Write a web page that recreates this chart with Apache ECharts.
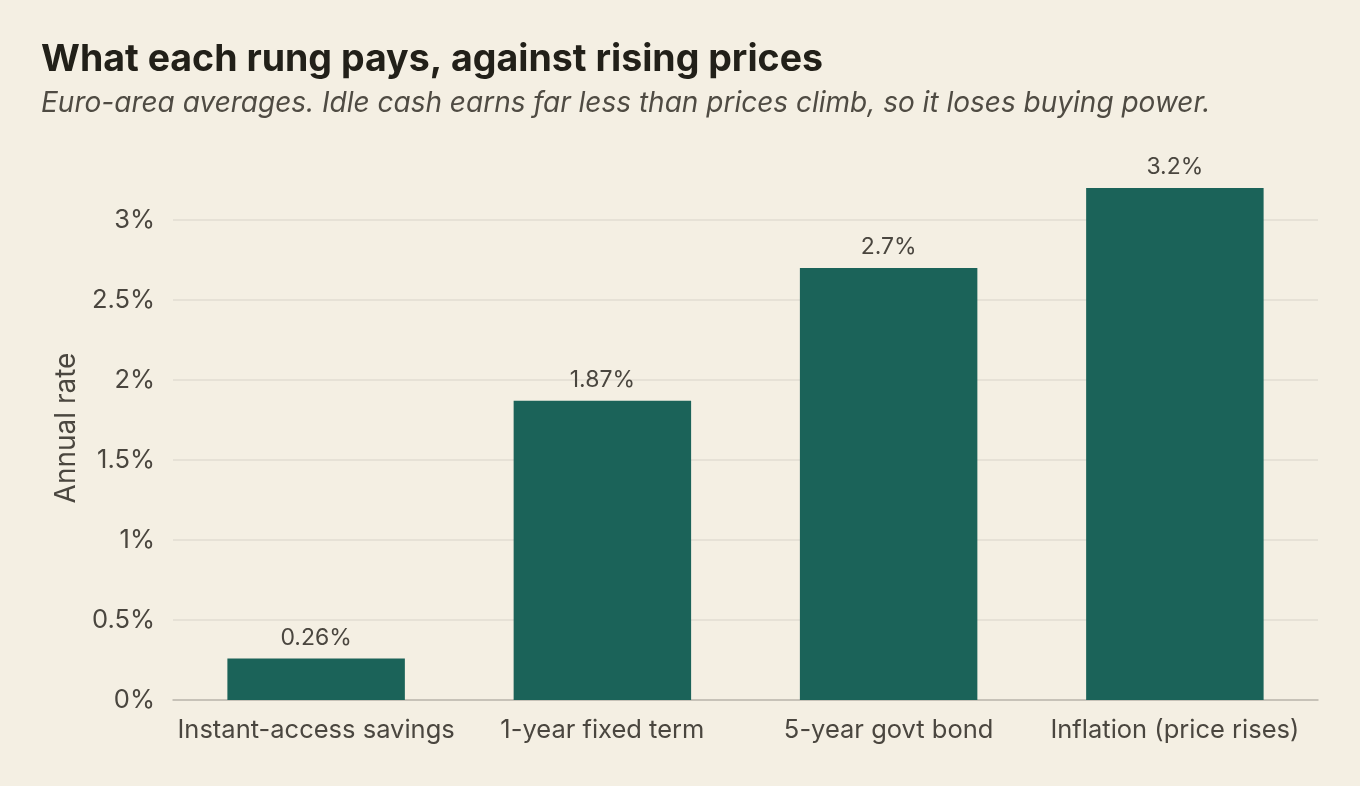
<!DOCTYPE html>
<html>
<head>
<meta charset="utf-8">
<script src="https://cdn.jsdelivr.net/npm/echarts@6/dist/echarts.min.js"></script>
<style>
  html, body { margin: 0; padding: 0; background: #f4efe3; }
  #chart { width: 1360px; height: 786px; }
</style>
</head>
<body>
<div id="chart"></div>
<script>
let categories = ['Instant-access savings', '1-year fixed term', '5-year govt bond', 'Inflation (price rises)'];
let rates = [0.26, 1.87, 2.7, 3.2];
let rateLabels = ['0.26%', '1.87%', '2.7%', '3.2%'];

let dom = document.getElementById('chart');
let myChart = echarts.init(dom);

let option = {
    backgroundColor: '#f4efe3',
    textStyle: { fontFamily: 'Inter' },
    title: {
        text: 'What each rung pays, against rising prices',
        subtext: 'Euro-area averages. Idle cash earns far less than prices climb, so it loses buying power.',
        left: 36,
        top: 36,
        itemGap: 11,
        textStyle: {
            fontFamily: 'Inter',
            fontSize: 37.5,
            fontWeight: 'bold',
            color: '#222019'
        },
        subtextStyle: {
            fontFamily: 'Inter',
            fontSize: 28,
            fontStyle: 'italic',
            color: '#4f4b43'
        }
    },
    grid: {
        left: 173,
        right: 42,
        top: 156,
        bottom: 86
    },
    xAxis: {
        type: 'category',
        data: categories,
        axisLine: { lineStyle: { color: '#bdb8ae', width: 1.5 } },
        axisTick: { show: false },
        axisLabel: {
            fontSize: 25.5,
            color: '#4a463f',
            margin: 17,
            interval: 0
        }
    },
    yAxis: {
        type: 'value',
        min: 0,
        max: 3.4,
        interval: 0.5,
        name: 'Annual rate',
        nameLocation: 'middle',
        nameGap: 91,
        nameTextStyle: { fontSize: 28, color: '#4a463f' },
        axisLine: { show: false },
        axisTick: { show: false },
        axisLabel: {
            fontSize: 25.5,
            color: '#4a463f',
            margin: 18,
            showMaxLabel: false,
            formatter: function (v) { return v + '%'; }
        },
        splitLine: {
            showMaxLine: false,
            lineStyle: { color: '#e2ddd2', width: 1.5 }
        }
    },
    series: [
        {
            type: 'bar',
            data: rates,
            barWidth: '62%',
            itemStyle: { color: '#1b6359' },
            label: {
                show: true,
                position: 'top',
                distance: 9,
                fontSize: 23,
                color: '#4a463f',
                formatter: function (p) { return rateLabels[p.dataIndex]; }
            }
        }
    ]
};

myChart.setOption(option, true);
window.addEventListener('resize', function () {
    myChart.resize();
});
</script>
</body>
</html>
